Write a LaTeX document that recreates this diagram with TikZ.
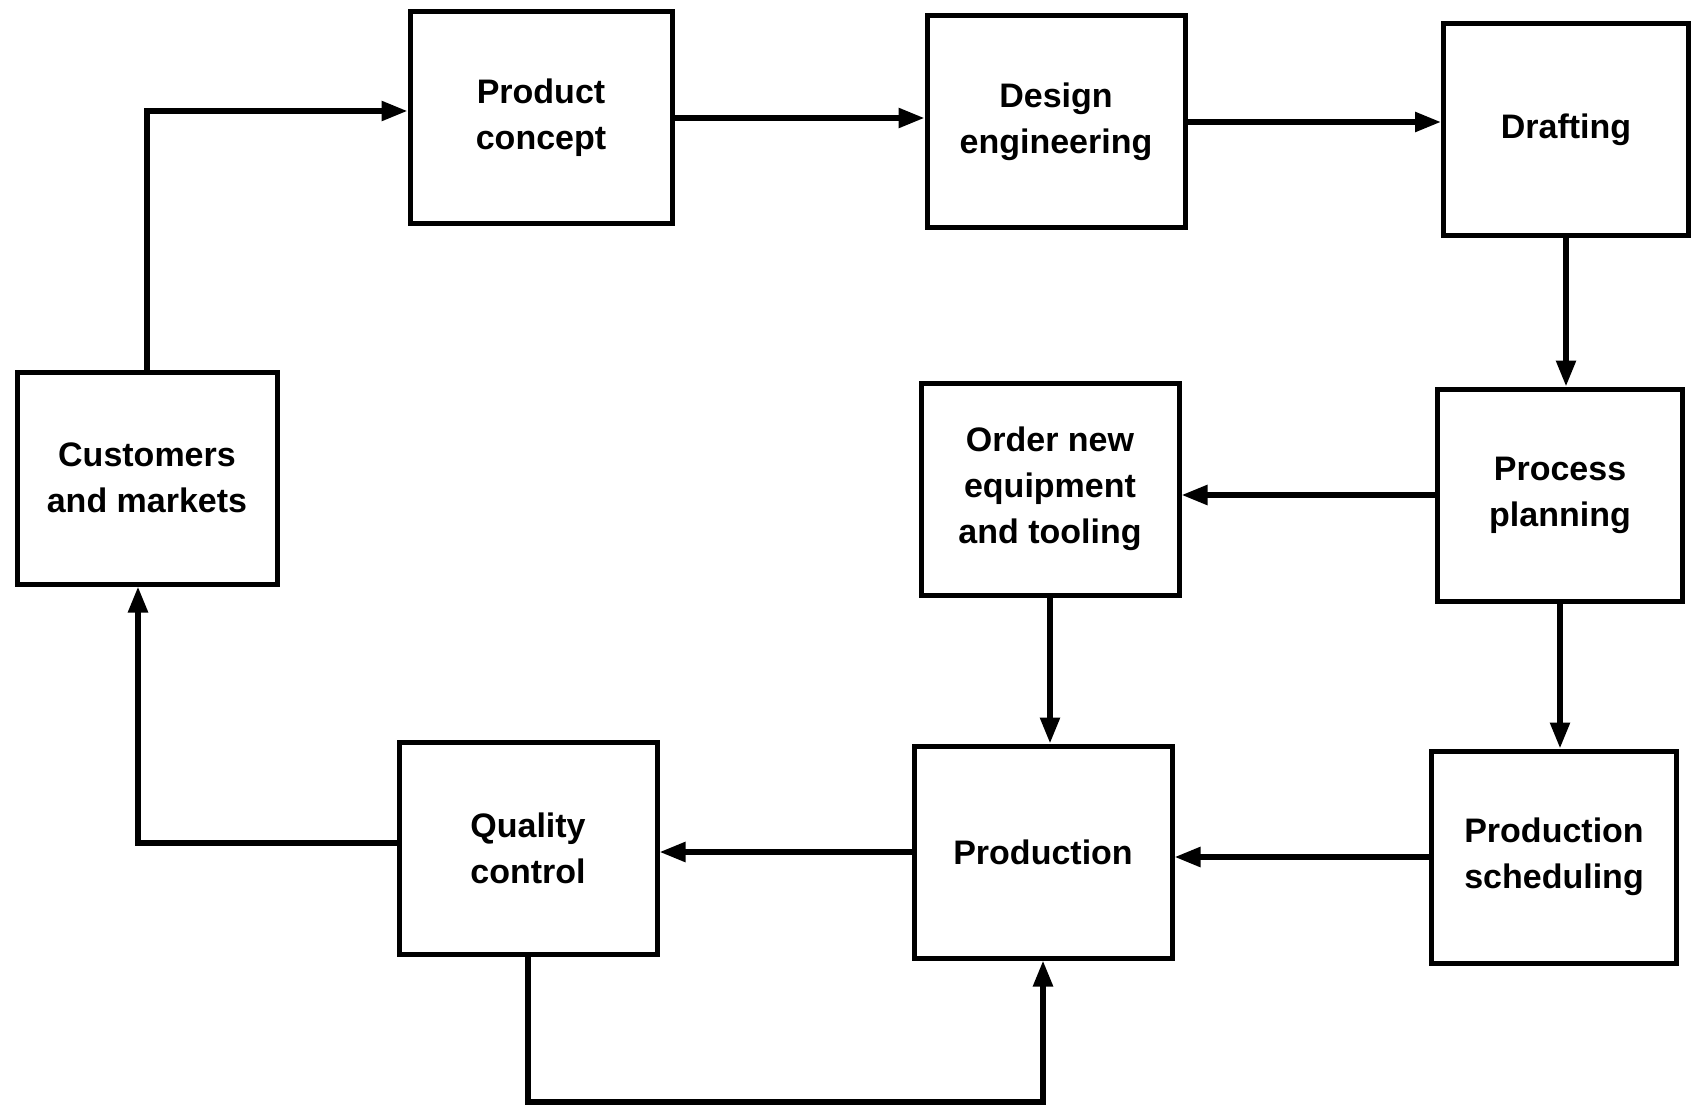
\documentclass[tikz,border=0pt]{standalone}
\usepackage{fontspec}
\setmainfont{Liberation Sans}
\usetikzlibrary{arrows.meta,positioning}

\begin{document}
\begin{tikzpicture}[x=1pt,y=-1pt,line cap=butt,line join=miter,
  flow/.style={line width=5.5pt,-{Triangle[length=26pt,width=19pt]}},
  stage/.style={draw,line width=5pt,align=center,fill=white,
    minimum width=258pt,minimum height=212pt,inner sep=0pt,
    font=\fontsize{34}{46}\selectfont\bfseries},
  narrow/.style={minimum width=245pt}]

\useasboundingbox (0,0) rectangle (1691,1115);

% Top row.
\node[stage,minimum width=262pt] (concept) at (541,118) {Product\\concept};
\node[stage] (design) at (1056,122) {Design\\engineering};
\node[stage,narrow] (drafting) at (1566,130) {Drafting};

% Middle row.
\node[stage,minimum width=260pt] (customers) at (147,478) {Customers\\and markets};
\node[stage] (order) at (1050,489) {Order new\\equipment\\and tooling};
\node[stage,narrow] (planning) at (1560,495) {Process\\planning};

% Bottom row.
\node[stage] (quality) at (528,848) {Quality\\control};
\node[stage] (production) at (1043,852) {Production};
\node[stage,narrow] (scheduling) at (1554,857) {Production\\scheduling};

\coordinate (loop) at (0,1102);

% Connectors.
\draw[flow] (customers.north) |- ([yshift=7pt]concept.west);
\draw[flow] (concept.east) -- (concept.east -| design.west);
\draw[flow] (design.east) -- (design.east -| drafting.west);
\draw[flow] (drafting.south) -- (drafting.south |- planning.north);
\draw[flow] (planning.west) -- (planning.west -| order.east);
\draw[flow] (planning.south) -- (planning.south |- scheduling.north);
\draw[flow] (order.south) -- (order.south |- production.north);
\draw[flow] (scheduling.west) -- (scheduling.west -| production.east);
\draw[flow] (production.west) -- (production.west -| quality.east);
\draw[flow] ([yshift=5pt]quality.west) -| ([xshift=-9pt]customers.south);
\draw[flow] (quality.south) -- (quality.south |- loop) -| (production.south);

\end{tikzpicture}
\end{document}
